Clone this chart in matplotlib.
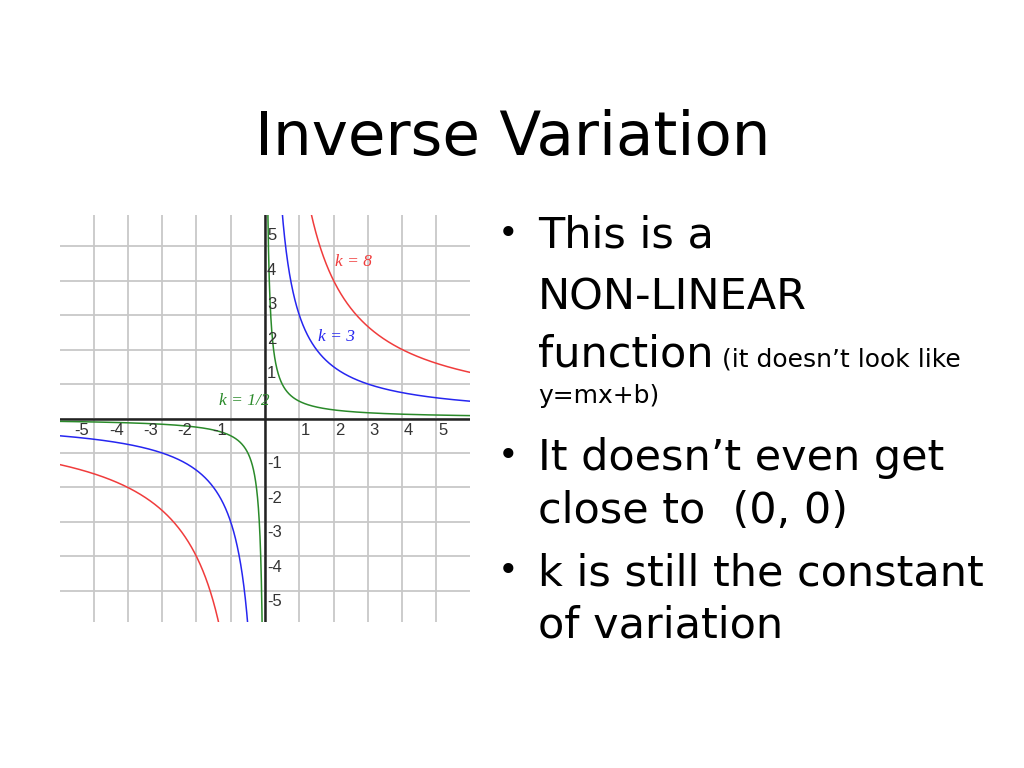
import numpy as np
import matplotlib
matplotlib.use('Agg')
import matplotlib.pyplot as plt

# data: constants of variation for y = k / x
k_values = [8, 3, 0.5]
k_labels = ['k = 8', 'k = 3', 'k = 1/2']
k_colors = ['#f03c3c', '#2626f0', '#2a8a2a']
label_pos = [(2.05, 4.55), (1.55, 2.35), (-1.35, 0.5)]
ticks = [-5, -4, -3, -2, -1, 1, 2, 3, 4, 5]

W, H = 1024, 768
fig = plt.figure(figsize=(W / 100, H / 100), dpi=100)
fig.patch.set_facecolor('white')

def fx(px):
    return px / W

def fy(py):
    return 1 - py / H

# Title
fig.text(fx(513), fy(155), 'Inverse Variation', ha='center', va='baseline',
         fontsize=44, family='DejaVu Sans', color='black')

# Graph
ax = fig.add_axes([fx(60), fy(622), (470 - 60) / W, (622 - 215) / H])
ax.set_xlim(-5.98, 5.98)
ax.set_ylim(-5.9, 5.9)
for s in ax.spines.values():
    s.set_visible(False)
ax.set_xticks([])
ax.set_yticks([])
for g in range(-6, 7):
    ax.axvline(g, color='#c8c8c8', lw=1.3, zorder=0)
    ax.axhline(g, color='#c8c8c8', lw=1.3, zorder=0)
ax.axhline(0, color='#222222', lw=1.8, zorder=1)
ax.axvline(0, color='#222222', lw=1.8, zorder=1)

x_pos = np.linspace(0.01, 6.2, 2000)
x_neg = -x_pos[::-1]
for k, c in zip(k_values, k_colors):
    ax.plot(x_pos, k / x_pos, color=c, lw=1.1, zorder=3)
    ax.plot(x_neg, k / x_neg, color=c, lw=1.1, zorder=3)

for lab, c, (lx, ly) in zip(k_labels, k_colors, label_pos):
    ax.text(lx, ly, lab, color=c, fontsize=12.5, family='Liberation Serif',
            style='italic', ha='left', va='center', zorder=4)

for t in ticks:
    if t > 0:
        ax.text(t + 0.05, -0.12, str(t), ha='left', va='top', fontsize=12,
                family='Liberation Sans', color='#333333', zorder=4)
        ax.text(0.06, t + 0.08, str(t), ha='left', va='bottom', fontsize=12,
                family='Liberation Sans', color='#333333', zorder=4)
    else:
        ax.text(t - 0.12, -0.12, str(t), ha='right', va='top', fontsize=12,
                family='Liberation Sans', color='#333333', zorder=4)
        ax.text(0.06, t - 0.1, str(t), ha='left', va='top', fontsize=12,
                family='Liberation Sans', color='#333333', zorder=4)

# Bullet text
big = 31
small = 18
fam = 'DejaVu Sans'
bx, tx = 498, 538
for by in [244, 466, 581]:
    fig.text(fx(bx), fy(by), '•', fontsize=25, family=fam, va='baseline')
fig.text(fx(tx), fy(248), 'This is a', fontsize=big, family=fam, va='baseline')
fig.text(fx(tx), fy(310), 'NON-LINEAR', fontsize=big, family=fam, va='baseline')
t = fig.text(fx(tx), fy(367), 'function', fontsize=big, family=fam, va='baseline')
fig.canvas.draw()
bb = t.get_window_extent()
fig.text(fx(bb.x1 + 8), fy(367), '(it doesn’t look like', fontsize=small,
         family=fam, va='baseline')
fig.text(fx(tx), fy(403), 'y=mx+b)', fontsize=small, family=fam, va='baseline')
fig.text(fx(tx), fy(470), 'It doesn’t even get', fontsize=big, family=fam, va='baseline')
fig.text(fx(tx), fy(523), 'close to  (0, 0)', fontsize=big, family=fam, va='baseline')
fig.text(fx(tx), fy(585), 'k is still the constant', fontsize=big, family=fam, va='baseline')
fig.text(fx(tx), fy(637), 'of variation', fontsize=big, family=fam, va='baseline')

fig.savefig('out.png', dpi=100)
